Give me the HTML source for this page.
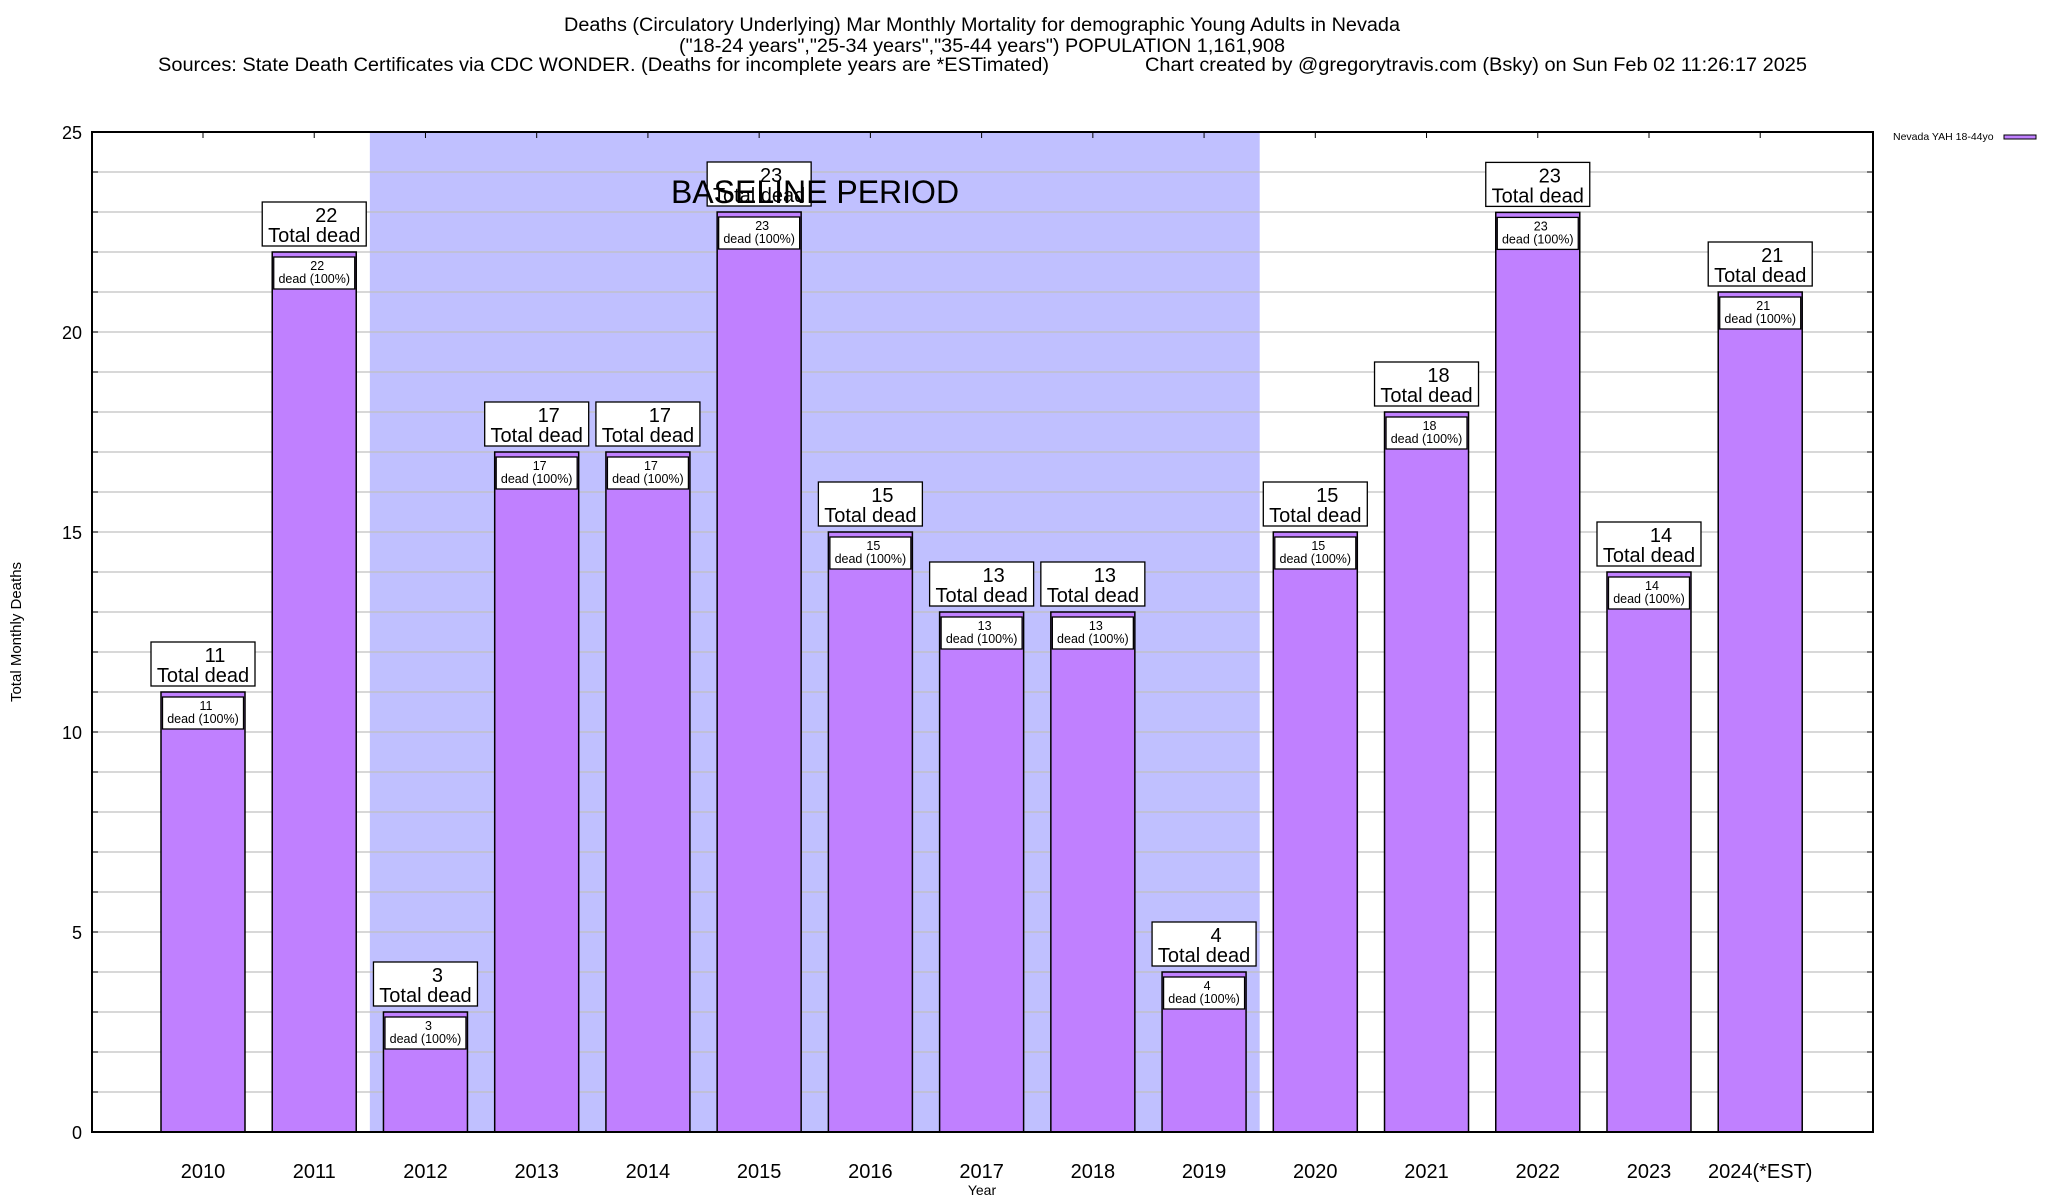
<!DOCTYPE html>
<html><head><meta charset="utf-8"><style>
html,body{margin:0;padding:0;background:#fff;}
svg{display:block;font-family:"Liberation Sans",Arial,sans-serif;}
</style></head><body>
<svg id="chart" width="2048" height="1200" viewBox="0 0 2048 1200" xmlns="http://www.w3.org/2000/svg">
<rect x="0" y="0" width="2048" height="1200" fill="#fff"/>
<g fill="#000" font-size="19">
<text x="982" y="31" text-anchor="middle" textLength="836" lengthAdjust="spacingAndGlyphs">Deaths (Circulatory Underlying) Mar Monthly Mortality for demographic Young Adults in Nevada</text>
<text x="982" y="52" text-anchor="middle" textLength="606" lengthAdjust="spacingAndGlyphs">("18-24 years","25-34 years","35-44 years") POPULATION 1,161,908</text>
<text x="158" y="71" textLength="891" lengthAdjust="spacingAndGlyphs">Sources: State Death Certificates via CDC WONDER. (Deaths for incomplete years are *ESTimated)</text>
<text x="1145" y="71" textLength="662" lengthAdjust="spacingAndGlyphs">Chart created by @gregorytravis.com (Bsky) on Sun Feb 02 11:26:17 2025</text>
</g>
<g id="plot"></g>
</svg>
<script>
const categories = ["2010","2011","2012","2013","2014","2015","2016","2017","2018","2019","2020","2021","2022","2023","2024(*EST)"];
const deaths = [11,22,3,17,17,23,15,13,13,4,15,18,22.99,14,21];
const deathLabels = [11,22,3,17,17,23,15,13,13,4,15,18,23,14,21];
const yTicks = [0,5,10,15,20,25];
const baselineRange = [2012,2019];

const NS="http://www.w3.org/2000/svg";
const L=92,R=1873,T=132,B=1132,yMax=25;
const step=111.23,x0=203,bw=84;
function xPos(i){return x0+step*i;}
function yPos(v){return B-(v/yMax)*(B-T);}
const g=document.getElementById('plot');
function mk(tag,attrs,parent){const e=document.createElementNS(NS,tag);for(const k in attrs)e.setAttribute(k,attrs[k]);(parent||g).appendChild(e);return e;}

const bi0=categories.indexOf(String(baselineRange[0])), bi1=categories.indexOf(String(baselineRange[1]));
const shade=mk('rect',{x:xPos(bi0)-step/2,y:T,width:step*(bi1-bi0+1),height:B-T,fill:'#c0c0ff'});



for(let v=1;v<yMax;v++){
  const ln=mk('line',{x1:L,x2:R,y1:yPos(v),y2:yPos(v),stroke:'#c0c0c0','stroke-width':1.3});
  
  
  mk('line',{x1:L,x2:L+6,y1:yPos(v),y2:yPos(v),stroke:'#000','stroke-width':1});
  mk('line',{x1:R-6,x2:R,y1:yPos(v),y2:yPos(v),stroke:'#000','stroke-width':1});
}
yTicks.forEach(v=>{
  const t=mk('text',{x:82,y:yPos(v)+7,'text-anchor':'end','font-size':18,fill:'#000'});
  t.textContent=v;
  
  
});

categories.forEach((c,i)=>{
  const cx=xPos(i), v=deaths[i], yt=yPos(v);
  mk('line',{x1:cx,x2:cx,y1:T,y2:T+6,stroke:'#000'});
  mk('line',{x1:cx,x2:cx,y1:B,y2:B-6,stroke:'#000'});
  const bar=mk('rect',{x:cx-bw/2,y:yt,width:bw,height:B-yt,fill:'#c080ff',stroke:'#000','stroke-width':1.5});
  
  
  const ib=mk('rect',{x:cx-40.5,y:yt+5,width:81,height:32,fill:'#fff',stroke:'#000','stroke-width':1.3});
  
  
  const it1=mk('text',{x:cx+3,y:yt+18,'text-anchor':'middle','font-size':12.5});
  it1.textContent=deathLabels[i];
  
  
  const it2=mk('text',{x:cx,y:yt+31,'text-anchor':'middle','font-size':12.5});
  it2.textContent='dead (100%)';
  
  
  const tb=mk('rect',{x:cx-52,y:yt-50,width:104,height:44,fill:'#fff',stroke:'#000','stroke-width':1.3});
  
  
  const t1=mk('text',{x:cx+12,y:yt-30,'text-anchor':'middle','font-size':20});
  t1.textContent=deathLabels[i];
  
  
  const t2=mk('text',{x:cx,y:yt-10,'text-anchor':'middle','font-size':20});
  t2.textContent='Total dead';
  
  
  const xl=mk('text',{x:cx,y:1178,'text-anchor':'middle','font-size':20});
  xl.textContent=c;
  
  
});
const bl=mk('text',{x:815,y:203,'text-anchor':'middle','font-size':32,fill:'#000'});
bl.textContent='BASELINE PERIOD';


const fr=mk('rect',{x:L,y:T,width:R-L,height:B-T,fill:'none',stroke:'#000','stroke-width':2});


const xt=mk('text',{x:982,y:1195,'text-anchor':'middle','font-size':14});
xt.textContent='Year';


const yt=mk('text',{x:0,y:0,'text-anchor':'middle','font-size':15,transform:'translate(21,632) rotate(-90)'});
yt.textContent='Total Monthly Deaths';


const lt=mk('text',{x:1893,y:140,'font-size':10.5});
lt.textContent='Nevada YAH 18-44yo';


const ls=mk('rect',{x:2004,y:135,width:32,height:4,fill:'#c080ff',stroke:'#000','stroke-width':1});


</script>
</body></html>
